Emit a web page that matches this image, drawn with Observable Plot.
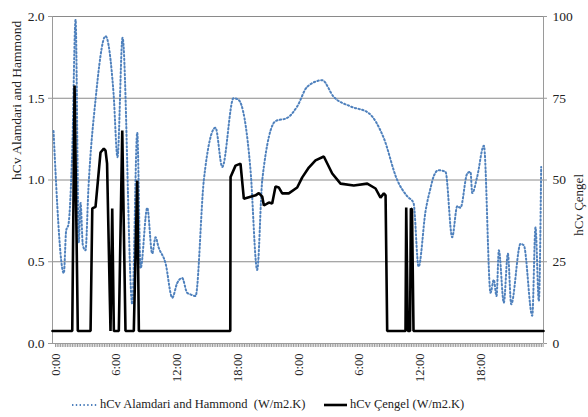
<!DOCTYPE html>
<html>
<head>
<meta charset="utf-8">
<script src="https://cdn.jsdelivr.net/npm/d3@7"></script>
<script src="https://cdn.jsdelivr.net/npm/@observablehq/plot@0.6"></script>
<style>
  body { margin: 0; background: #fff; }
  body, #chart svg, #chart svg text, #legend { font-family: "Liberation Serif", "Times New Roman", Tinos, "DejaVu Serif", "Noto Serif", FreeSerif, serif !important; }
  #chart { width: 588px; }
  #legend { position: relative; width: 588px; height: 32px; font-size: 12.5px; color: #222; }
  .item { position: absolute; top: 12px; display: flex; align-items: center; white-space: pre; }
  .item svg { margin-right: 3px; }
</style>
</head>
<body>
<div id="chart"></div>
<div id="legend">
  <div class="item" style="left:72px"><svg width="25" height="6"><line x1="0" y1="3" x2="25" y2="3" stroke="#4f81bd" stroke-width="2" stroke-dasharray="1.4 2.4"/></svg><span>hCv Alamdari and Hammond  (W/m2.K)</span></div>
  <div class="item" style="left:324px"><svg width="23" height="6"><line x1="0" y1="3" x2="23" y2="3" stroke="#000" stroke-width="2.6"/></svg><span>hCv Çengel (W/m2.K)</span></div>
</div>
<script>
// Series 1: hCv Alamdari and Hammond (left axis, W/m2.K), x in hours from start
const alamdariHours = [-0.2, 0.82, 1.05, 1.28, 1.65, 1.98, 2.3, 2.47, 2.7, 2.96, 3.25, 3.95, 4.94, 5.73, 6.12, 6.62, 7.58, 8.07, 8.40, 9.06, 9.55, 9.88, 10.17, 10.87, 11.53, 12.02, 12.51, 13.0, 13.33, 13.83, 14.65, 15.80, 16.47, 17.58, 18.08, 19.26, 19.92, 20.42, 21.73, 22.89, 23.87, 24.86, 26.34, 27.46, 29.14, 30.92, 32.40, 33.75, 34.74, 35.36, 35.86, 36.55, 37.04, 37.34, 37.83, 38.52, 39.18, 39.68, 40.0, 40.67, 40.99, 41.16, 41.65, 42.31, 42.97, 43.29, 43.56, 43.79, 44.28, 44.68, 45.01, 45.93, 46.26, 47.09, 47.41, 47.74, 47.97];
const alamdariValues = [1.30, 0.43, 0.69, 0.73, 1.18, 1.98, 0.62, 0.86, 0.60, 0.57, 0.95, 1.49, 1.88, 1.53, 1.14, 1.87, 0.24, 1.29, 0.46, 0.83, 0.55, 0.65, 0.59, 0.49, 0.28, 0.37, 0.40, 0.31, 0.30, 0.29, 1.00, 1.32, 1.08, 1.50, 1.49, 1.06, 0.45, 1.00, 1.36, 1.38, 1.45, 1.57, 1.61, 1.51, 1.45, 1.41, 1.26, 1.00, 0.90, 0.86, 0.47, 0.81, 0.95, 1.02, 1.06, 1.05, 0.65, 0.84, 0.83, 1.04, 1.05, 0.92, 1.02, 1.21, 0.31, 0.39, 0.29, 0.57, 0.25, 0.55, 0.24, 0.61, 0.60, 0.17, 0.71, 0.26, 1.08];

// Series 2: hCv Çengel (right axis, W/m2.K)
const cengelHours = [-0.3, 1.65, 1.88, 2.20, 3.46, 3.63, 3.95, 4.44, 4.77, 4.94, 5.09, 5.43, 5.60, 5.76, 6.25, 6.59, 6.91, 7.73, 8.07, 8.23, 17.26, 17.29, 17.78, 18.27, 18.60, 19.76, 20.08, 20.42, 20.58, 21.07, 21.40, 21.73, 22.06, 22.39, 23.04, 23.87, 24.37, 25.02, 25.68, 26.50, 27.33, 28.15, 29.46, 30.79, 31.61, 32.10, 32.43, 32.60, 32.76, 34.57, 34.64, 34.80, 35.02, 35.10, 35.21, 35.36, 48.2];
const cengelValues = [3.8, 3.8, 78.9, 3.8, 3.8, 41.3, 41.8, 58.4, 59.6, 59.0, 55.0, 3.8, 41.3, 3.8, 3.8, 65.1, 3.8, 3.8, 49.8, 3.8, 3.8, 50.9, 54.4, 55.0, 44.3, 45.3, 46.0, 44.9, 42.2, 43.1, 42.8, 48.0, 47.7, 45.9, 45.9, 47.7, 50.8, 53.8, 56.0, 57.2, 52.0, 48.9, 48.3, 48.9, 47.4, 44.6, 45.9, 45.3, 3.8, 3.8, 41.6, 3.8, 3.8, 41.3, 41.0, 3.8, 3.8];

// Axis ticks
const xTickHours = [0, 6, 12, 18, 24, 30, 36, 42];
const xTickLabels = ["0:00", "6:00", "12:00", "18:00", "0:00", "6:00", "12:00", "18:00"];
const leftTicks = [0, 0.5, 1, 1.5, 2];
const leftTickLabels = ["0.0", "0.5", "1.0", "1.5", "2.0"];
const rightTickLabels = ["0", "25", "50", "75", "100"];
const axisScaleRatio = 50; // right axis max (100) / left axis max (2)
const sampleStepHours = 1 / 6; // 10-minute category ticks

const alamdari = alamdariHours.map((h, i) => ({h, v: alamdariValues[i]}));
const cengel = cengelHours.map((h, i) => ({h, v: cengelValues[i] / axisScaleRatio}));
const minorTicks = d3.range(0, 48.2, sampleStepHours);

const font = '"Liberation Serif", "Times New Roman", Tinos, "DejaVu Serif", serif';
const chart = Plot.plot({
  width: 588,
  height: 385,
  marginLeft: 52,
  marginRight: 45,
  marginTop: 16,
  marginBottom: 42,
  style: {fontFamily: font, fontSize: "12.5px", color: "#222", background: "#fff"},
  x: {domain: [-0.3, 48.2], label: null},
  y: {domain: [0, 2], label: null},
  marks: [
    Plot.ruleY([0.5, 1, 1.5, 2], {stroke: "#8a8a8a", strokeWidth: 1}),
    Plot.ruleX([-0.3], {stroke: "#9a9a9a"}),
    Plot.ruleX([48.2], {stroke: "#9a9a9a"}),
    Plot.ruleY([0], {stroke: "#9a9a9a"}),
    Plot.axisX({ticks: minorTicks, tickSize: 4, tickFormat: () => "", label: null, stroke: "#9a9a9a", strokeOpacity: 1}),
    Plot.axisX({ticks: xTickHours, tickSize: 0, tickPadding: 10, tickRotate: -90,
      tickFormat: (d) => xTickLabels[xTickHours.indexOf(d)], label: null, fontSize: 12.5}),
    Plot.axisY({ticks: leftTicks, tickSize: 4, tickPadding: 4, stroke: "#9a9a9a",
      tickFormat: (d) => leftTickLabels[leftTicks.indexOf(d)], label: null, fontSize: 13.5}),
    Plot.axisY({anchor: "right", ticks: leftTicks, tickSize: 3, tickPadding: 6, stroke: "#9a9a9a",
      tickFormat: (d) => rightTickLabels[leftTicks.indexOf(d)], label: null, fontSize: 13.5}),
    Plot.text(["hCv Alamdari and Hammond"], {frameAnchor: "left", dx: -36, rotate: -90, fontSize: 13.5, fill: "#222"}),
    Plot.text(["hCv Çengel"], {frameAnchor: "right", dx: 35, dy: -6, rotate: -90, fontSize: 13, fill: "#222"}),
    Plot.line(alamdari, {x: "h", y: "v", stroke: "#4f81bd", strokeWidth: 2, strokeDasharray: "1.4 2.4", curve: "monotone-x"}),
    Plot.line(cengel, {x: "h", y: "v", stroke: "#000", strokeWidth: 2.6, strokeLinejoin: "miter"})
  ]
});
document.getElementById("chart").append(chart);
</script>
</body>
</html>
